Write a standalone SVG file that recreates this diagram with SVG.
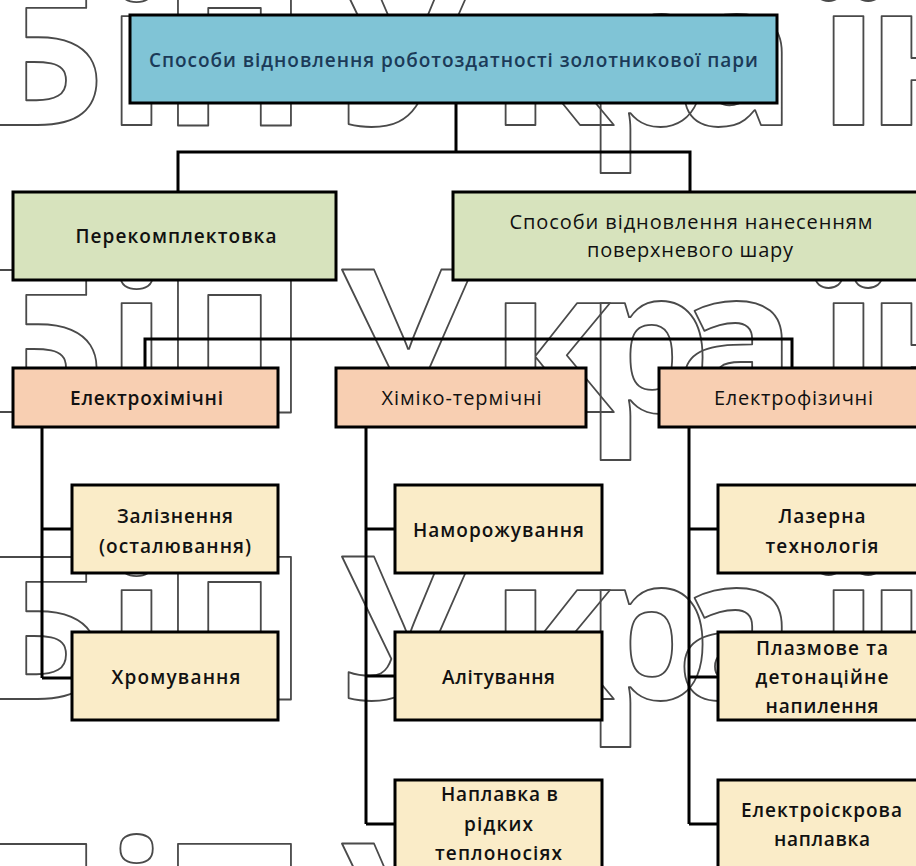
<svg xmlns="http://www.w3.org/2000/svg" width="916" height="866" viewBox="0 0 916 866">
<style>
.wm{font-family:"Open Sans","DejaVu Sans",sans-serif;font-size:200px;font-weight:700;fill:none;stroke:#4a4a4a;stroke-width:1.8;stroke-linejoin:round}
.box{stroke:#000;stroke-width:3}
.top{fill:#80C4D6}
.grn{fill:#D7E3BD}
.org{fill:#F8CFB2}
.yel{fill:#FAECC8}
.t{font-family:"Open Sans","Noto Sans","DejaVu Sans",sans-serif;font-size:20px;fill:#111;text-anchor:middle}
.b{font-weight:600;font-size:19px}
.c{fill:none;stroke:#000;stroke-width:3}
</style>
<rect width="916" height="866" fill="#fff"/>
<g id="watermark">
<text class="wm" x="-22 106 160 300 340 490 585 676 818 866" y="125">БіП Україн</text>
<text class="wm" x="-22 106 160 300 340 490 585 676 818 866" y="412">БіП Україн</text>
<text class="wm" x="-22 106 160 300 340 490 585 676 818 866" y="699">БіП Україн</text>
<text class="wm" x="-22 106 160 300 340 490 585 676 818 866" y="986">БіП Україн</text>
</g>
<g id="connectors">
<path class="c" d="M456 103V152M178 192V152H690V192"/>
<path class="c" d="M145 368V339H792V368"/>
<path class="c" d="M42 427V678M42 529H72M42 678H72"/>
<path class="c" d="M366 427V824M366 529H395M366 676H395M366 824H395"/>
<path class="c" d="M689 427V824M689 529H718M689 677H718M689 824H718"/>
</g>
<g id="n-root">
<rect class="box top" x="130" y="15" width="647" height="88"/>
<text class="t b" x="453.5" y="67" textLength="609" style="fill:#1B3A58">Способи відновлення роботоздатності золотникової пари</text>
</g>
<g id="n-perekompl">
<rect class="box grn" x="13" y="192" width="323" height="88"/>
<text class="t b" x="176" y="243" textLength="201">Перекомплектовка</text>
</g>
<g id="n-nanesennia">
<rect class="box grn" x="453" y="192" width="470" height="88"/>
<text class="t" x="691" y="229" textLength="363">Способи відновлення нанесенням</text>
<text class="t" x="690" y="257" textLength="206">поверхневого шару</text>
</g>
<g id="n-elchem">
<rect class="box org" x="13" y="368" width="265" height="59"/>
<text class="t b" x="146.5" y="405" textLength="153">Електрохімічні</text>
</g>
<g id="n-chemterm">
<rect class="box org" x="336" y="368" width="250" height="59"/>
<text class="t" x="461.5" y="405" textLength="160">Хіміко-термічні</text>
</g>
<g id="n-elphys">
<rect class="box org" x="659" y="368" width="264" height="59"/>
<text class="t" x="793.5" y="405" textLength="159">Електрофізичні</text>
</g>
<g id="n-zaliznennia">
<rect class="box yel" x="72" y="485" width="206" height="88"/>
<text class="t b" x="175" y="523" textLength="116">Залізнення</text>
<text class="t b" x="175" y="553" textLength="152">(осталювання)</text>
</g>
<g id="n-chromuvannia">
<rect class="box yel" x="72" y="632" width="206" height="88"/>
<text class="t b" x="176" y="684" textLength="129">Хромування</text>
</g>
<g id="n-namorozh">
<rect class="box yel" x="395" y="485" width="207" height="88"/>
<text class="t b" x="498.5" y="537" textLength="171">Наморожування</text>
</g>
<g id="n-alituvannia">
<rect class="box yel" x="395" y="632" width="207" height="88"/>
<text class="t b" x="498.5" y="684" textLength="113">Алітування</text>
</g>
<g id="n-naplavka-ridkykh">
<rect class="box yel" x="395" y="780" width="207" height="100"/>
<text class="t b" x="499.5" y="801" textLength="117">Наплавка в</text>
<text class="t b" x="498.5" y="831" textLength="69">рідких</text>
<text class="t b" x="498.5" y="860" textLength="127">теплоносіях</text>
</g>
<g id="n-lazer">
<rect class="box yel" x="718" y="485" width="205" height="88"/>
<text class="t b" x="822" y="523" textLength="87">Лазерна</text>
<text class="t b" x="822" y="553" textLength="113">технологія</text>
</g>
<g id="n-plazma">
<rect class="box yel" x="718" y="632" width="205" height="88"/>
<text class="t b" x="822" y="655" textLength="132">Плазмове та</text>
<text class="t b" x="822" y="684" textLength="133">детонаційне</text>
<text class="t b" x="822" y="713" textLength="113">напилення</text>
</g>
<g id="n-elisk">
<rect class="box yel" x="718" y="780" width="205" height="100"/>
<text class="t b" x="821.5" y="817" textLength="161">Електроіскрова</text>
<text class="t b" x="822" y="846" textLength="96">наплавка</text>
</g>
</svg>
